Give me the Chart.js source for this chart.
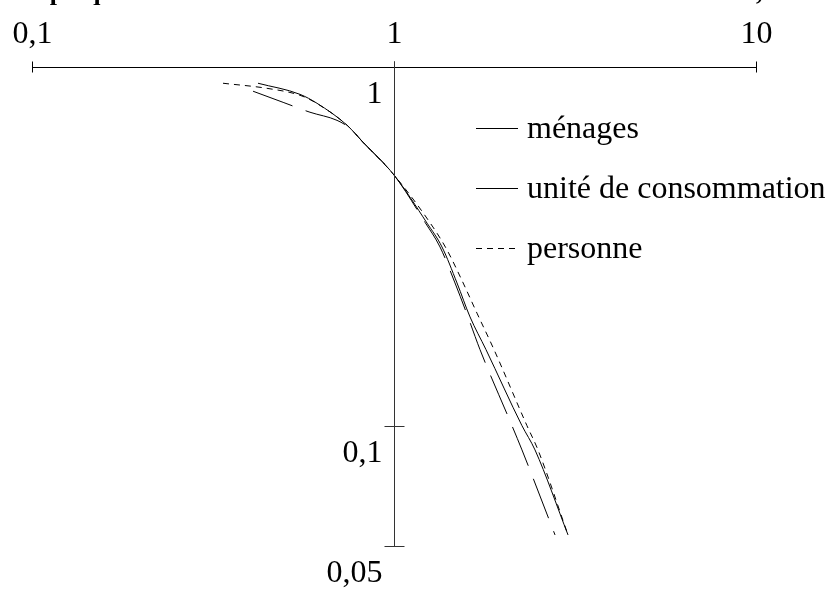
<!DOCTYPE html>
<html>
<head>
<meta charset="utf-8">
<script src="https://cdn.jsdelivr.net/npm/chart.js@4.4.1/dist/chart.umd.min.js"></script>
<style>
  html, body { margin: 0; padding: 0; background: #ffffff; overflow: hidden; }
  canvas { display: block; }
</style>
</head>
<body>
<canvas id="c" width="840" height="599"></canvas>
<script>
// Share of units whose income is above x times the median (log-log)
const seriesNames = ['ménages', 'unité de consommation', 'personne'];

const menagesX = [0.421, 0.550, 0.613, 0.742, 0.821, 1.0, 1.234, 1.357, 1.493, 1.622, 1.795, 2.257, 2.452, 3.025];
const menagesY = [0.901, 0.839, 0.792, 0.688, 0.617, 0.5, 0.367, 0.315, 0.250, 0.201, 0.163, 0.100, 0.0856, 0.0496];

const ucX = [0.408, 0.494, 0.586, 0.696, 0.756, 0.821, 1.0, 1.218, 1.340, 1.474, 1.601, 1.728, 2.118, 2.257, 2.785];
const ucY = [0.856, 0.797, 0.748, 0.710, 0.675, 0.617, 0.5, 0.369, 0.315, 0.250, 0.201, 0.163, 0.100, 0.0856, 0.0496];

const personneX = [0.337, 0.446, 0.550, 0.605, 0.742, 0.821, 1.0, 1.281, 1.401, 1.541, 1.695, 1.889, 2.330, 2.499, 3.025];
const personneY = [0.901, 0.872, 0.834, 0.797, 0.688, 0.617, 0.5, 0.358, 0.309, 0.254, 0.206, 0.163, 0.100, 0.0856, 0.0496];

const xTickValues = [0.1, 1, 10];
const xTickLabels = ['0,1', '1', '10'];
const yTickValues = [1, 0.1, 0.0462];
const yTickLabels = ['1', '0,1', '0,05'];

const titleText = 'Graphique 1 : distribution des revenus relatifs à la médiane en 1996,';

const FONT = '"Liberation Serif", "Times New Roman", serif';

function pairs(xs, ys) {
  return xs.map((x, i) => ({ x: x, y: ys[i] }));
}

// Axes crossing at (1, 1), title and legend drawn from the chart's own scales
const axesPlugin = {
  id: 'crossAxes',
  afterDraw(chart) {
    const ctx = chart.ctx;
    const xs = chart.scales.x;
    const ys = chart.scales.y;
    ctx.save();

    // title (runs off the top of the canvas)
    ctx.fillStyle = '#000';
    ctx.font = 'bold 26px ' + FONT;
    ctx.textAlign = 'left';
    ctx.textBaseline = 'alphabetic';
    ctx.fillText(titleText, 5, 0);

    ctx.strokeStyle = '#000';
    ctx.lineWidth = 1;

    // horizontal axis along y = 1
    const yAxisPos = Math.round(ys.getPixelForValue(1)) + 0.5;
    const xLeft = xs.getPixelForValue(xTickValues[0]);
    const xRight = xs.getPixelForValue(xTickValues[xTickValues.length - 1]);
    ctx.beginPath();
    ctx.moveTo(xLeft, yAxisPos);
    ctx.lineTo(xRight, yAxisPos);
    ctx.stroke();

    ctx.font = '32px ' + FONT;
    ctx.textAlign = 'center';
    ctx.textBaseline = 'alphabetic';
    xTickValues.forEach((v, i) => {
      const px = Math.round(xs.getPixelForValue(v)) + 0.5;
      ctx.beginPath();
      ctx.moveTo(px, yAxisPos - 6);
      ctx.lineTo(px, yAxisPos + 5);
      ctx.stroke();
      ctx.fillText(xTickLabels[i], px, yAxisPos - 25);
    });

    // vertical axis along x = 1
    const xAxisPos = Math.round(xs.getPixelForValue(1)) + 0.5;
    const yBottom = ys.getPixelForValue(yTickValues[yTickValues.length - 1]);
    ctx.strokeStyle = '#333';
    ctx.beginPath();
    ctx.moveTo(xAxisPos, yAxisPos - 6);
    ctx.lineTo(xAxisPos, yBottom);
    ctx.stroke();

    ctx.textAlign = 'right';
    ctx.textBaseline = 'alphabetic';
    yTickValues.forEach((v, i) => {
      const py = Math.round(ys.getPixelForValue(v)) + 0.5;
      if (i > 0) {
        ctx.beginPath();
        ctx.moveTo(xAxisPos - 10, py);
        ctx.lineTo(xAxisPos + 10, py);
        ctx.stroke();
      }
      ctx.fillStyle = '#000';
      ctx.fillText(yTickLabels[i], xAxisPos - 12, py + 35);
    });

    // legend
    ctx.textAlign = 'left';
    ctx.textBaseline = 'alphabetic';
    chart.data.datasets.forEach((ds, i) => {
      const ly = 128 + i * 60;
      ctx.strokeStyle = ds.borderColor;
      ctx.lineWidth = ds.borderWidth;
      ctx.setLineDash(ds.borderDash || []);
      ctx.beginPath();
      ctx.moveTo(476, ly + 0.5);
      ctx.lineTo(518, ly + 0.5);
      ctx.stroke();
      ctx.setLineDash([]);
      ctx.fillStyle = '#000';
      ctx.fillText(ds.label, 527, ly + 10);
    });

    ctx.restore();
  }
};

new Chart(document.getElementById('c'), {
  type: 'line',
  data: {
    datasets: [
      { label: seriesNames[0], data: pairs(menagesX, menagesY), borderColor: '#000', borderWidth: 1, borderDash: [] },
      { label: seriesNames[1], data: pairs(ucX, ucY), borderColor: '#000', borderWidth: 1, borderDash: [42, 14] },
      { label: seriesNames[2], data: pairs(personneX, personneY), borderColor: '#000', borderWidth: 1, borderDash: [6, 5] }
    ]
  },
  options: {
    responsive: false,
    animation: false,
    events: [],
    layout: { padding: { left: 32, right: 84, top: 67, bottom: 53 } },
    elements: {
      point: { radius: 0 },
      line: { cubicInterpolationMode: 'monotone', fill: false }
    },
    scales: {
      x: { type: 'logarithmic', min: xTickValues[0], max: xTickValues[2], display: false },
      y: { type: 'logarithmic', min: yTickValues[2], max: yTickValues[0], display: false }
    },
    plugins: {
      legend: { display: false },
      title: { display: false },
      tooltip: { enabled: false }
    }
  },
  plugins: [axesPlugin]
});
</script>
</body>
</html>
